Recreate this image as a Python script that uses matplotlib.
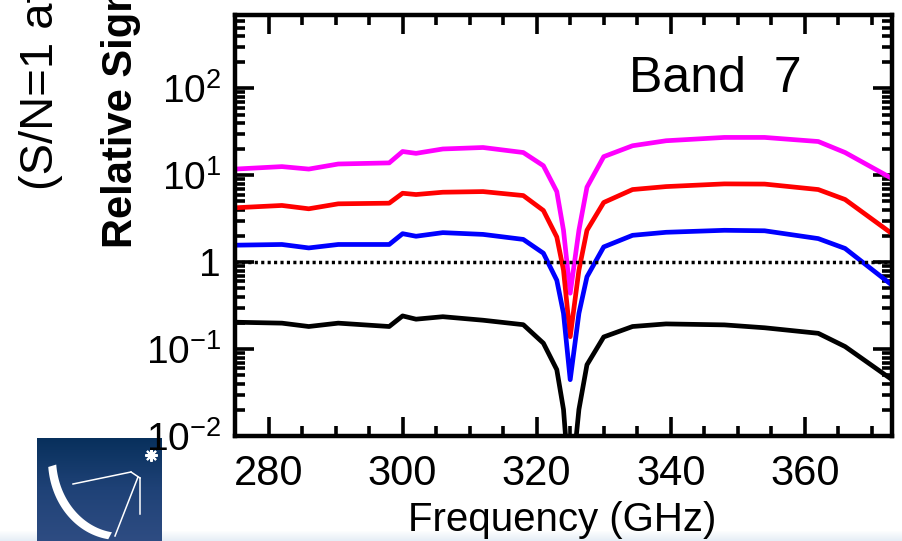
import numpy as np
import matplotlib
matplotlib.use("Agg")
import matplotlib.pyplot as plt
from matplotlib.ticker import FixedLocator, FixedFormatter, LogLocator, NullFormatter, MultipleLocator
from matplotlib.patches import Polygon
from matplotlib.colors import LinearSegmentedColormap

# ---------------- data ----------------
freq = [275, 282, 286, 290.4, 298, 300, 302, 306, 312, 318, 321, 323, 324, 325,
        326.3, 327.5, 330, 334.3, 339.3, 348, 354, 362, 366, 373]
magenta = [11.8, 12.6, 11.8, 13.5, 13.9, 18.8, 17.9, 20.1, 20.9, 18.3, 12.9, 6.5, 2.33, 0.44,
           2.33, 7.3, 16.4, 21.9, 25.0, 27.3, 27.3, 24.5, 18.3, 9.2]
red = [4.23, 4.50, 4.12, 4.70, 4.78, 6.22, 6.01, 6.39, 6.50, 5.85, 3.94, 1.95, 0.81, 0.139,
       0.81, 2.33, 4.87, 6.86, 7.42, 7.97, 7.93, 6.86, 5.27, 2.13]
blue = [1.57, 1.60, 1.46, 1.60, 1.60, 2.13, 1.99, 2.19, 2.09, 1.83, 1.27, 0.62, 0.258, 0.0445,
        0.258, 0.68, 1.50, 2.04, 2.21, 2.33, 2.30, 1.87, 1.44, 0.545]
black = [0.204, 0.199, 0.182, 0.199, 0.182, 0.241, 0.221, 0.236, 0.215, 0.191, 0.117, 0.058, 0.0202, 0.002,
         0.0202, 0.066, 0.138, 0.182, 0.195, 0.190, 0.176, 0.152, 0.107, 0.0445]
threshold = 1.0

xticks = [280, 300, 320, 340, 360]
xtick_labels = ["280", "300", "320", "340", "360"]
yticks = [1e-2, 1e-1, 1, 1e1, 1e2]
ytick_labels = ["$10^{-2}$", "$10^{-1}$", "1", "$10^{1}$", "$10^{2}$"]
xlim = (275, 373)
ylim = (0.01, 700)
band_label = "Band  7"
xlabel = "Frequency (GHz)"
ylabel1 = "Relative Signal"
ylabel2 = "(S/N=1 at"

plt.rcParams['font.family'] = ['Liberation Sans', 'DejaVu Sans']
plt.rcParams['mathtext.fontset'] = 'custom'
plt.rcParams['mathtext.rm'] = 'Liberation Sans'
plt.rcParams['mathtext.default'] = 'regular'

W, H = 902, 541
fig = plt.figure(figsize=(W / 100, H / 100), dpi=100)
fig.patch.set_facecolor('white')

def fx(px):
    return px / W

def fy(py):
    return 1 - py / H

# faint slide background strip at the very bottom
bax = fig.add_axes([0, 0, 1, fy(531)], zorder=-1)
bax.axis('off')
bax.imshow(np.linspace(0, 1, 20).reshape(-1, 1), cmap=LinearSegmentedColormap.from_list(
    "bg", ["#ffffff", "#e6eef6"]), aspect='auto', extent=[0, 1, 0, 1])

# ---------------- logo (decoration) ----------------
lax = fig.add_axes([fx(37), 0, fx(162) - fx(37), fy(438)], zorder=0)
grad = np.linspace(0, 1, 100).reshape(-1, 1)
cm = LinearSegmentedColormap.from_list("logo", ["#08305c", "#1f4277", "#2e4c82"])
lax.imshow(grad, cmap=cm, aspect='auto', extent=[37, 162, 541, 438], origin='upper')
lax.set_xlim(37, 162)
lax.set_ylim(541, 438)
lax.axis('off')
th = np.linspace(np.deg2rad(185), np.deg2rad(262), 60)
cx, cy = 118, 460
outer = np.c_[cx + 70 * np.cos(th), cy - 80 * np.sin(th)]
inner = np.c_[cx + 65 * np.cos(th) + 3, cy - 75 * np.sin(th) - 2][::-1]
lax.add_patch(Polygon(np.vstack([outer, inner]), closed=True, color='white', lw=0))
lax.plot([131, 73], [472, 484], color='white', lw=1.1)
lax.plot([138, 115], [477, 536], color='white', lw=1.1)
lax.plot([140, 140], [478, 514], color='white', lw=1.1)
lax.plot([131, 140], [472, 478], color='white', lw=1.1)
lax.plot([151], [455], marker=(8, 2, 0), color='white', ms=9, mew=1.5)
lax.plot([151], [455], marker='o', color='white', ms=4)

# ---------------- main axes ----------------
ax = fig.add_axes([fx(235), fy(436), fx(892) - fx(235), fy(15) - fy(436)], zorder=2)
ax.set_facecolor('none')
ax.set_yscale('log')
ax.set_xlim(*xlim)
ax.set_ylim(*ylim)

lw = 3.4
ax.plot(freq, magenta, color='#ff00ff', lw=lw, solid_joinstyle='round')
ax.plot(freq, red, color='#ff0000', lw=lw, solid_joinstyle='round')
ax.plot(freq, blue, color='#0000ff', lw=lw, solid_joinstyle='round')
ax.plot(freq, black, color='black', lw=lw, solid_joinstyle='round')
ax.axhline(threshold, color='black', lw=2.5, ls=(0, (0.9, 0.95)))

ax.xaxis.set_major_locator(FixedLocator(xticks))
ax.xaxis.set_major_formatter(FixedFormatter(xtick_labels))
ax.xaxis.set_minor_locator(MultipleLocator(5))
ax.yaxis.set_major_locator(FixedLocator(yticks))
ax.yaxis.set_major_formatter(FixedFormatter(ytick_labels))
ax.yaxis.set_minor_locator(LogLocator(base=10, subs=np.arange(2, 10)))
ax.yaxis.set_minor_formatter(NullFormatter())

for s in ax.spines.values():
    s.set_linewidth(3.2)
ax.tick_params(which='both', direction='in', top=True, right=True, width=2.6, color='black')
ax.tick_params(which='major', length=13.5)
ax.tick_params(which='minor', length=7)
ax.tick_params(axis='x', which='major', labelsize=30, pad=13)
ax.tick_params(axis='y', which='major', labelsize=28, pad=10)

fig.text(fx(562), fy(531), xlabel, fontsize=29, ha='center', va='baseline')
fig.text(fx(715), fy(92), band_label, fontsize=36, ha='center', va='baseline')
fig.text(fx(132), fy(248), ylabel1, fontsize=30, fontweight='bold', rotation=90,
         rotation_mode='anchor', ha='left', va='baseline')
fig.text(fx(53), fy(190), ylabel2, fontsize=34, rotation=90,
         rotation_mode='anchor', ha='left', va='baseline')

fig.savefig("out.png", dpi=100)
